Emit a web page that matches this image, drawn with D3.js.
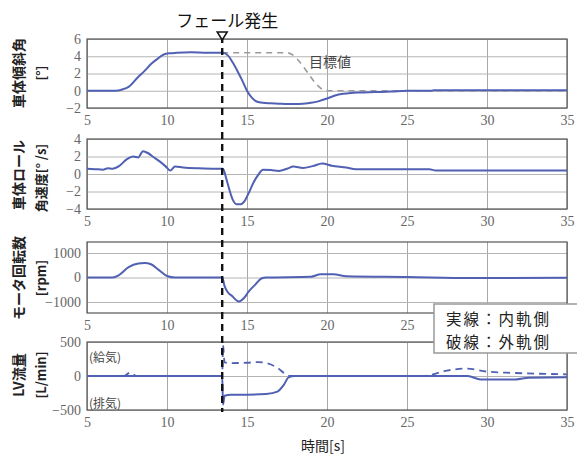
<!DOCTYPE html>
<html><head><meta charset="utf-8">
<script src="https://cdn.jsdelivr.net/npm/d3@7"></script>
<style>body{margin:0;background:#fff}svg{display:block}</style>
</head><body>
<svg id="c" width="577" height="456"></svg>
<script>
// ---- data ----
const xTicks = [5, 10, 15, 20, 25, 30, 35];
const failTime = 13.45;

const angleT = [5, 6.8, 7.2, 7.6, 8.2, 8.6, 9.0, 9.4, 9.8, 10.2, 10.6, 11.5, 12.5, 13.5, 13.8, 14.1, 14.4, 14.7, 15.0, 15.3, 15.6, 16.0, 16.5, 17.0, 17.5, 18.0, 18.5, 19.0, 19.5, 20.0, 20.5, 21.0, 21.5, 22.0, 23.0, 24.0, 25.0, 26.5, 26.7, 30, 35];
const angleV = [0, 0, 0.15, 0.45, 1.6, 2.3, 3.1, 3.7, 4.2, 4.35, 4.4, 4.45, 4.4, 4.4, 4.1, 3.3, 2.3, 1.2, 0.0, -0.8, -1.25, -1.4, -1.45, -1.5, -1.55, -1.55, -1.5, -1.4, -1.2, -0.9, -0.55, -0.35, -0.25, -0.2, -0.15, -0.1, 0, 0, 0.05, 0.05, 0.05];
const targetT = [13.45, 17.5, 20.0, 35];
const targetV = [4.4, 4.4, 0, 0];
const angleTicks = [-2, 0, 2, 4, 6];

const rollT = [5, 5.5, 6.0, 6.3, 6.6, 7.0, 7.5, 7.9, 8.2, 8.5, 8.8, 9.1, 9.5, 9.9, 10.2, 10.5, 11, 12, 13, 13.5, 13.7, 13.9, 14.1, 14.35, 14.6, 14.8, 15.1, 15.4, 15.7, 16.0, 16.5, 17.0, 17.5, 17.9, 18.5, 19.1, 19.7, 20.3, 21.2, 21.8, 24, 26.4, 26.8, 30, 35];
const rollV = [0.6, 0.55, 0.5, 0.65, 0.6, 0.9, 1.7, 2.0, 1.9, 2.6, 2.4, 2.0, 1.5, 0.9, 0.4, 0.85, 0.75, 0.65, 0.6, 0.6, -0.5, -1.8, -2.9, -3.45, -3.45, -3.2, -2.2, -1.0, -0.1, 0.5, 0.45, 0.35, 0.6, 0.85, 0.7, 0.9, 1.2, 0.95, 0.75, 0.55, 0.55, 0.55, 0.4, 0.4, 0.4];
const rollTicks = [-4, -2, 0, 2, 4];

const motorT = [5, 6.6, 7.0, 7.6, 8.2, 8.6, 9.0, 9.5, 10.0, 10.5, 13.45, 13.6, 13.8, 14.05, 14.5, 14.8, 15.1, 15.5, 15.9, 16.2, 19.0, 19.6, 20.4, 21.2, 25, 29, 35];
const motorV = [0, 0, 100, 420, 570, 590, 540, 300, 60, 0, 0, -350, -600, -750, -980, -850, -580, -300, -40, 0, 30, 130, 130, 50, 20, -20, -10];
const motorTicks = [-1000, 0, 1000];

const flowInT = [5, 13.45, 13.5, 13.6, 14, 15, 16.2, 16.9, 17.3, 17.6, 18, 26, 28.8, 29.6, 31.8, 32.6, 35];
const flowInV = [0, 0, -420, -290, -275, -275, -265, -230, -130, -20, 0, 0, 0, -50, -50, -25, -20];
const flowOutT = [5, 7.3, 7.7, 8.1, 13.45, 13.5, 13.6, 14, 15, 15.7, 16.2, 16.9, 17.4, 17.7, 26, 27.5, 28.7, 30, 31.7, 35];
const flowOutV = [0, 0, 50, 0, 0, 450, 200, 190, 195, 205, 190, 120, 30, 0, 0, 80, 110, 65, 45, 25];
const flowTicks = [-500, 0, 500];

// ---- layout ----
const svg = d3.select("#c");
const x = d3.scaleLinear().domain([5, 35]).range([87, 567]);
const blue = "#5060b2";
const serif = "Liberation Serif";
const jpFont = "Noto Sans CJK JP";
const legendBox = {x: 434, y: 304, w: 150, h: 49};

const panels = [
  {top: 39, bot: 108, dom: [-2, 6], ticks: angleTicks, l1: "車体傾斜角", l2: "[°]", y1: 73, y2: 73},
  {top: 139, bot: 209, dom: [-4, 4], ticks: rollTicks, l1: "車体ロール", l2: "角速度[° /s]", y1: 175, y2: 178},
  {top: 242, bot: 313, dom: [-1450, 1450], ticks: motorTicks, l1: "モータ回転数", l2: "[rpm]", y1: 278, y2: 278},
  {top: 342, bot: 410, dom: [-500, 500], ticks: flowTicks, l1: "LV流量", l2: "[L/min]", y1: 375, y2: 375}
];

function styleTicks(s) {
  s.attr("font-family", serif).attr("font-size", 14);
  s.select(".domain").remove();
  s.selectAll("text").attr("font-family", serif).attr("fill", "#666");
}

panels.forEach((p, i) => {
  p.y = d3.scaleLinear().domain(p.dom).range([p.bot, p.top]);
  const g = svg.append("g");
  g.append("rect").attr("x", 87).attr("y", p.top).attr("width", 480).attr("height", p.bot - p.top).attr("fill", "#fff");
  g.append("g").attr("transform", `translate(0,${p.bot})`)
    .call(d3.axisBottom(x).tickValues(xTicks).tickSize(-(p.bot - p.top)).tickFormat(""))
    .call(s => s.select(".domain").remove())
    .call(s => s.selectAll("line").attr("stroke", "#a8a8a8").attr("stroke-width", 1));
  g.append("g").attr("transform", `translate(87,0)`)
    .call(d3.axisLeft(p.y).tickValues(p.ticks).tickSize(-480).tickFormat(""))
    .call(s => s.select(".domain").remove())
    .call(s => s.selectAll("line").attr("stroke", "#b4b4b4").attr("stroke-width", 1));
  const vis = xTicks.filter(t => !(p.bot + 12 > legendBox.y && p.bot + 12 < legendBox.y + legendBox.h && x(t) + 8 > legendBox.x));
  g.append("g").attr("transform", `translate(0,${p.bot + 4})`)
    .call(d3.axisBottom(x).tickValues(vis).tickSize(0).tickFormat(d3.format("d")))
    .call(styleTicks);
  g.append("g").attr("transform", `translate(84,0)`)
    .call(d3.axisLeft(p.y).tickValues(p.ticks).tickSize(0).tickFormat(d3.format("d")))
    .call(styleTicks);
  g.append("rect").attr("x", 87).attr("y", p.top).attr("width", 480).attr("height", p.bot - p.top)
    .attr("fill", "none").attr("stroke", "#555").attr("stroke-width", 1.2);
  g.append("text").attr("transform", `translate(24,${p.y1}) rotate(-90)`).attr("text-anchor", "middle")
    .attr("font-family", jpFont).attr("font-weight", "bold").attr("font-size", 14).attr("fill", "#222").text(p.l1);
  g.append("text").attr("transform", `translate(46,${p.y2}) rotate(-90)`).attr("text-anchor", "middle")
    .attr("font-family", jpFont).attr("font-weight", "bold").attr("font-size", 13).attr("fill", "#222").text(p.l2);
});

function series(p, ts, vs, opts) {
  const line = d3.line().x(d => x(d[0])).y(d => p.y(d[1])).curve(d3.curveMonotoneX);
  svg.append("path").datum(d3.zip(ts, vs)).attr("d", line).attr("fill", "none")
    .attr("stroke", opts.color).attr("stroke-width", opts.w)
    .attr("stroke-dasharray", opts.dash || null).attr("stroke-linejoin", "round");
}
series(panels[0], targetT, targetV, {color: "#9a9a9a", w: 1.6, dash: "6,5"});
series(panels[0], angleT, angleV, {color: blue, w: 2});
series(panels[1], rollT, rollV, {color: blue, w: 2});
series(panels[2], motorT, motorV, {color: blue, w: 2});
series(panels[3], flowOutT, flowOutV, {color: blue, w: 1.8, dash: "7,5"});
series(panels[3], flowInT, flowInV, {color: blue, w: 2});

const fx = x(failTime);
svg.append("line").attr("x1", fx).attr("x2", fx).attr("y1", 36).attr("y2", 412)
  .attr("stroke", "#111").attr("stroke-width", 2.4).attr("stroke-dasharray", "7,5");
svg.append("path").attr("d", `M${fx - 5},32 L${fx + 5},32 L${fx},40 Z`).attr("fill", "#fff").attr("stroke", "#111").attr("stroke-width", 1.5);
svg.append("text").attr("x", fx + 5).attr("y", 27).attr("text-anchor", "middle").attr("font-family", jpFont)
  .attr("font-size", 17).attr("fill", "#111").text("フェール発生");

svg.append("text").attr("x", 330).attr("y", 67).attr("text-anchor", "middle").attr("font-family", jpFont)
  .attr("font-size", 14).attr("fill", "#444").text("目標値");

svg.append("text").attr("x", 89).attr("y", 362).attr("font-family", jpFont).attr("font-size", 12).attr("fill", "#444").text("(給気)");
svg.append("text").attr("x", 89).attr("y", 408).attr("font-family", jpFont).attr("font-size", 12).attr("fill", "#444").text("(排気)");

svg.append("rect").attr("x", legendBox.x).attr("y", legendBox.y).attr("width", legendBox.w).attr("height", legendBox.h)
  .attr("fill", "#fff").attr("stroke", "#999").attr("stroke-width", 1.5);
svg.append("text").attr("x", 446).attr("y", 325).attr("font-family", jpFont).attr("font-size", 15.5)
  .attr("letter-spacing", 2).attr("fill", "#222").text("実線：内軌側");
svg.append("text").attr("x", 446).attr("y", 348).attr("font-family", jpFont).attr("font-size", 15.5)
  .attr("letter-spacing", 2).attr("fill", "#222").text("破線：外軌側");

svg.append("text").attr("x", 323).attr("y", 451).attr("text-anchor", "middle").attr("font-family", jpFont)
  .attr("font-size", 14).attr("fill", "#222").text("時間[s]");
</script>
</body></html>
